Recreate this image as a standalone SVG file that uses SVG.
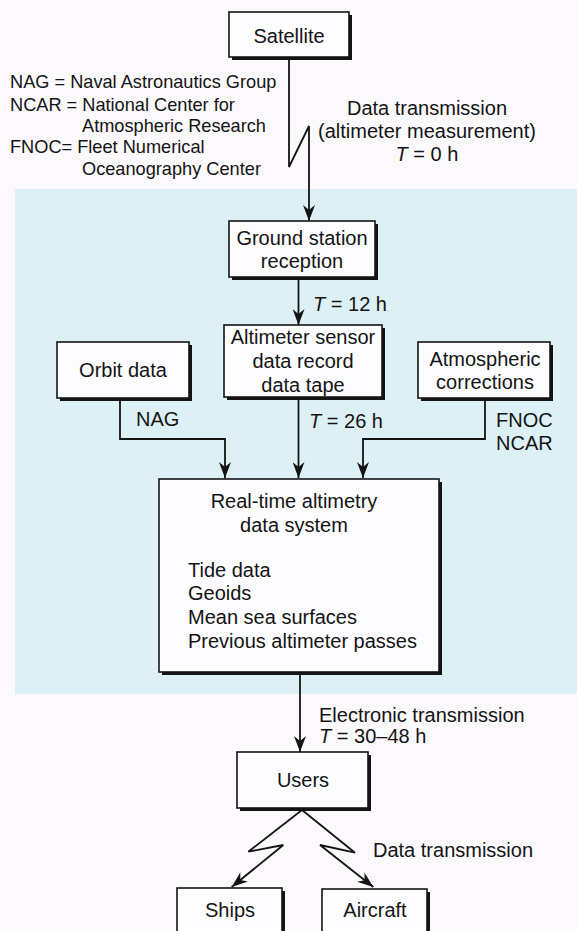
<svg xmlns="http://www.w3.org/2000/svg" width="577" height="931" viewBox="0 0 577 931">
<style>
.bg{fill:#fbf9fc}
.blue{fill:#ddf0f6}
.box{fill:#fdfcfe;stroke:#141414;stroke-width:1.6}
.sh{fill:#141414}
.t{font-family:"Liberation Sans",Arial,Helvetica,sans-serif;font-size:20px;fill:#141414}
.leg{font-size:18.2px}
.c{text-anchor:middle}
.i{font-style:italic}
.ln{fill:none;stroke:#141414;stroke-width:1.8;stroke-linejoin:miter}
.arr{marker-end:url(#ah)}
</style>
<defs>
<marker id="ah" markerUnits="userSpaceOnUse" viewBox="0 0 16 12" refX="16" refY="6" markerWidth="16" markerHeight="12" orient="auto">
<path d="M0,0 L16,6 L0,12 L5,6 Z" fill="#141414"/>
</marker>
</defs>
<rect class="bg" x="0" y="0" width="577" height="931"/>
<rect class="blue" x="15" y="189" width="562" height="505"/>

<g id="legend" class="t leg">
<text x="10" y="88">NAG = Naval Astronautics Group</text>
<text x="10" y="111">NCAR = National Center for</text>
<text x="82" y="132">Atmospheric Research</text>
<text x="10" y="153">FNOC= Fleet Numerical</text>
<text x="82" y="175">Oceanography Center</text>
</g>

<g id="connectors">
<polyline class="ln arr" points="289,57 289,167 309,126 309,221"/>
<line class="ln arr" x1="298.5" y1="277" x2="298.5" y2="325"/>
<polyline class="ln arr" points="120,398 120,439 225,439 225,478"/>
<line class="ln arr" x1="298.5" y1="397" x2="298.5" y2="478"/>
<polyline class="ln arr" points="485,398 485,439 363,439 363,478"/>
<line class="ln arr" x1="300" y1="672" x2="300" y2="752"/>
<polyline class="ln arr" points="302,810 248.3,851.7 283.3,845 231.7,887"/>
<polyline class="ln arr" points="302,810 355,852.7 320,845 373.3,887"/>
</g>

<g id="conn-labels" class="t">
<text class="c" x="427" y="115">Data transmission</text>
<text class="c" x="427" y="138">(altimeter measurement)</text>
<text class="c" x="427" y="161"><tspan class="i">T</tspan> = 0 h</text>
<text x="313" y="311"><tspan class="i">T</tspan> = 12 h</text>
<text x="136" y="426">NAG</text>
<text x="309" y="428"><tspan class="i">T</tspan> = 26 h</text>
<text x="496" y="427">FNOC</text>
<text x="496" y="450">NCAR</text>
<text x="319" y="722">Electronic transmission</text>
<text x="319" y="743"><tspan class="i">T</tspan> = 30–48 h</text>
<text x="373" y="857">Data transmission</text>
</g>

<g id="satellite">
<rect class="sh" x="232" y="15" width="120" height="45"/>
<rect class="box" x="229" y="12" width="120" height="45"/>
<text class="t c" x="289" y="43">Satellite</text>
</g>

<g id="ground-station">
<rect class="sh" x="232" y="224" width="146" height="56"/>
<rect class="box" x="229" y="221" width="146" height="56"/>
<text class="t c" x="302" y="245">Ground station</text>
<text class="t c" x="302" y="268">reception</text>
</g>

<g id="altimeter">
<rect class="sh" x="227" y="328" width="158" height="72"/>
<rect class="box" x="224" y="325" width="158" height="72"/>
<text class="t c" x="303" y="344">Altimeter sensor</text>
<text class="t c" x="303" y="368">data record</text>
<text class="t c" x="303" y="392">data tape</text>
</g>

<g id="orbit">
<rect class="sh" x="60" y="345" width="132" height="56"/>
<rect class="box" x="57" y="342" width="132" height="56"/>
<text class="t c" x="123" y="377">Orbit data</text>
</g>

<g id="atmospheric">
<rect class="sh" x="421" y="345" width="132" height="56"/>
<rect class="box" x="418" y="342" width="132" height="56"/>
<text class="t c" x="485" y="366">Atmospheric</text>
<text class="t c" x="485" y="389">corrections</text>
</g>

<g id="realtime">
<rect class="sh" x="162" y="482" width="280" height="193"/>
<rect class="box" x="159" y="479" width="280" height="193"/>
<text class="t c" x="294" y="508">Real-time altimetry</text>
<text class="t c" x="294" y="532">data system</text>
<text class="t" x="188" y="577">Tide data</text>
<text class="t" x="188" y="600">Geoids</text>
<text class="t" x="188" y="624">Mean sea surfaces</text>
<text class="t" x="188" y="648">Previous altimeter passes</text>
</g>

<g id="users">
<rect class="sh" x="240" y="755" width="131" height="56"/>
<rect class="box" x="237" y="752" width="131" height="56"/>
<text class="t c" x="303" y="787">Users</text>
</g>

<g id="ships">
<rect class="sh" x="180" y="891" width="105" height="60"/>
<rect class="box" x="177" y="888" width="105" height="60"/>
<text class="t c" x="230" y="917">Ships</text>
</g>

<g id="aircraft">
<rect class="sh" x="325" y="892" width="105" height="60"/>
<rect class="box" x="322" y="889" width="105" height="60"/>
<text class="t c" x="375" y="917">Aircraft</text>
</g>
</svg>
